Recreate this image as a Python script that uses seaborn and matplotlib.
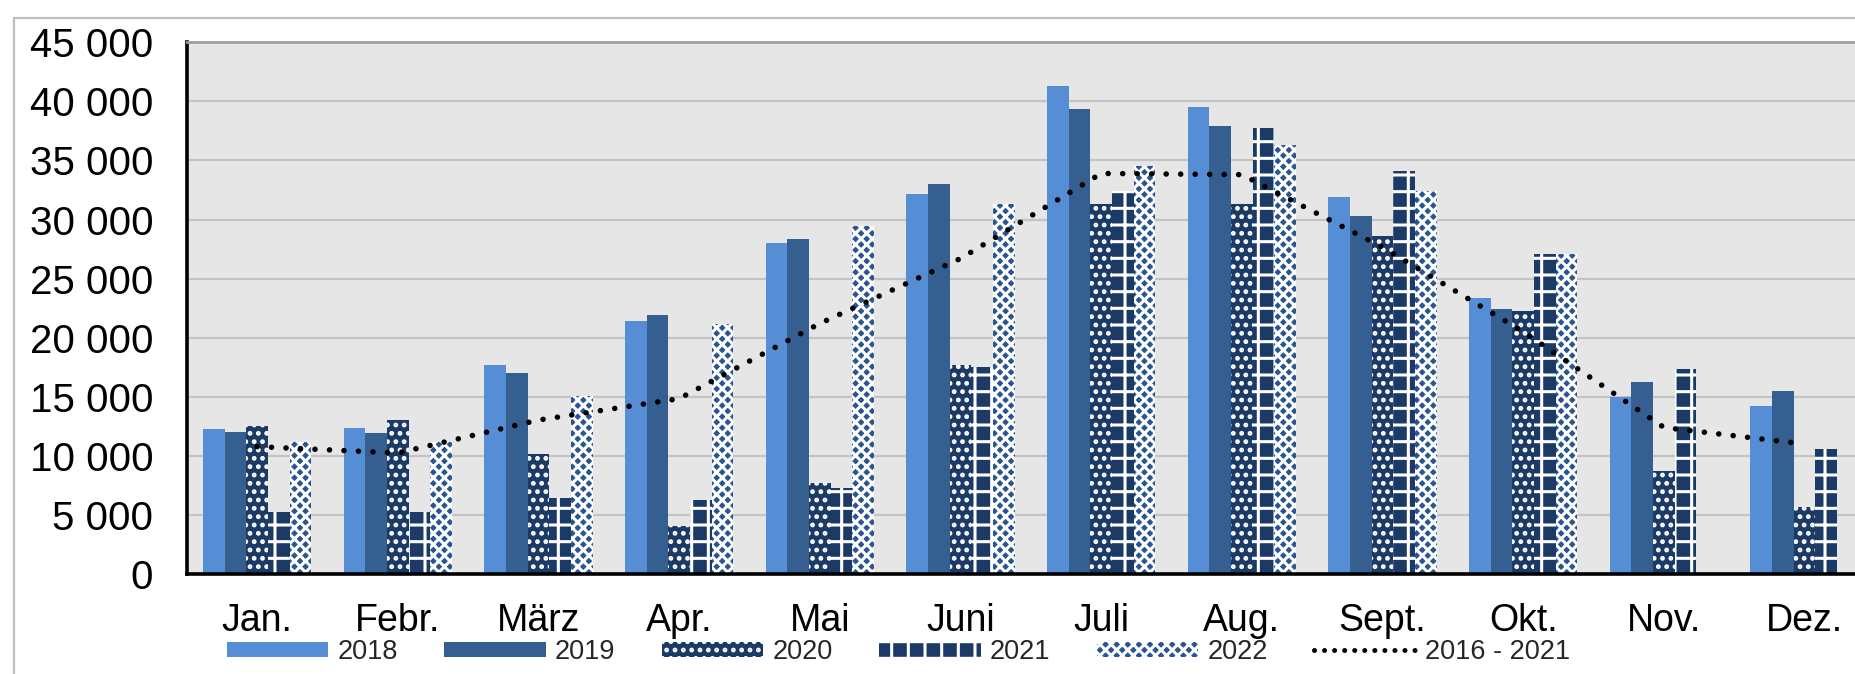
import numpy as np
import pandas as pd
import matplotlib
matplotlib.use("Agg")
import matplotlib.pyplot as plt
import seaborn as sns
from matplotlib.patches import Patch
from matplotlib.lines import Line2D
from matplotlib.ticker import FuncFormatter, FixedLocator

months = ["Jan.", "Febr.", "März", "Apr.", "Mai", "Juni", "Juli", "Aug.", "Sept.", "Okt.", "Nov.", "Dez."]
years = ["2018", "2019", "2020", "2021", "2022"]
v2018 = [12250, 12360, 17660, 21440, 27990, 32130, 41300, 39550, 31880, 23330, 15010, 14180]
v2019 = [12040, 11960, 16980, 21920, 28350, 33010, 39330, 37910, 30300, 22450, 16260, 15450]
v2020 = [12550, 13030, 10160, 4090, 7680, 17690, 31310, 31310, 28610, 22240, 8740, 5710]
v2021 = [5220, 5220, 6430, 6260, 7250, 17550, 32440, 37720, 34130, 27060, 17390, 10570]
v2022 = [11140, 11140, 15060, 21160, 29450, 31290, 34530, 36310, 32440, 27060, np.nan, np.nan]
avg_label = "2016 - 2021"
avg_2016_2021 = [10780, 10240, 13030, 14840, 21200, 26700, 33900, 33800, 27650, 20500, 12400, 11000]

colors = {"2018": "#558ed5", "2019": "#365f91", "2020": "#1b3a66", "2021": "#1b3a66", "2022": "#2a5590"}
hatches = {"2018": None, "2019": None, "2020": "..", "2021": "+", "2022": "xxx"}

series = {"2018": v2018, "2019": v2019, "2020": v2020, "2021": v2021, "2022": v2022}
rows = []
for y in years:
    for m, v in zip(months, series[y]):
        rows.append({"month": m, "year": y, "value": v})
df = pd.DataFrame(rows).dropna()

sns.set_style("white")
plt.rcParams["font.family"] = ["Liberation Sans", "DejaVu Sans"]
plt.rcParams["hatch.linewidth"] = 2.2

fig = plt.figure(figsize=(18.56, 6.74), dpi=100)
ax = fig.add_axes([186.7 / 1856, 100 / 674, (1875 - 186.7) / 1856, (574 - 42.3) / 674])
ax.set_facecolor("#e6e6e6")

sns.barplot(data=df, x="month", y="value", hue="year", order=months, hue_order=years,
            palette=colors, width=0.77, saturation=1, errorbar=None, legend=False, ax=ax)

for cont, y in zip(ax.containers, years):
    for p in cont.patches:
        if hatches[y]:
            p.set_hatch(hatches[y])
            p.set_edgecolor("white")
        else:
            p.set_edgecolor(colors[y])
        p.set_linewidth(0)

sns.lineplot(x=np.arange(len(months)), y=avg_2016_2021, color="black", linewidth=4.0,
             linestyle=(0, (0.01, 2.6)), dash_capstyle="round", legend=False, ax=ax)

ax.set_xlim(-0.5, len(months) - 0.5)
ax.set_ylim(0, 45000)
ax.set_xlabel("")
ax.set_ylabel("")

ax.yaxis.set_major_locator(FixedLocator(np.arange(0, 45001, 5000)))
ax.yaxis.set_major_formatter(FuncFormatter(lambda v, p: f"{int(v):,}".replace(",", " ")))
ax.tick_params(axis="y", which="major", direction="out", length=8, width=2.2, color="black",
               labelsize=29, pad=16, labelcolor="black")
ax.grid(axis="y", color="#c4c4c4", linewidth=1.6)
ax.set_axisbelow(True)

ax.xaxis.set_major_locator(FixedLocator(np.arange(-0.5, len(months), 1.0)))
ax.xaxis.set_minor_locator(FixedLocator(np.arange(len(months))))
ax.set_xticklabels([], minor=False)
ax.set_xticklabels(months, minor=True)
ax.tick_params(axis="x", which="major", direction="out", length=9, width=2.2, color="black")
ax.tick_params(axis="x", which="minor", length=0, labelsize=27, pad=21, labelcolor="black")

for s in ["left", "bottom"]:
    ax.spines[s].set_color("black")
    ax.spines[s].set_linewidth(2.6)
ax.spines["top"].set_color("#9e9e9e")
ax.spines["top"].set_linewidth(2)
ax.spines["right"].set_visible(False)

# outer frame lines
fig.add_artist(Line2D([14 / 1856, 1.0], [1 - 18 / 674, 1 - 18 / 674], color="#c0c0c0", lw=1.6))
fig.add_artist(Line2D([14 / 1856, 14 / 1856], [0.0, 1 - 18 / 674], color="#c0c0c0", lw=1.6))

handles = []
for y in years:
    if hatches[y]:
        handles.append(Patch(facecolor=colors[y], edgecolor="white", hatch=hatches[y], linewidth=0, label=y))
    else:
        handles.append(Patch(facecolor=colors[y], edgecolor=colors[y], linewidth=0, label=y))
handles.append(Line2D([0], [0], color="black", linewidth=3.6, linestyle=(0, (0.01, 2.0)),
                      dash_capstyle="round", label=avg_label))

fig.legend(handles=handles, loc="center left", bbox_to_anchor=(227 / 1856, 1 - 652 / 674),
           ncol=6, frameon=False, fontsize=19.5, handlelength=3.74, handleheight=0.48,
           handletextpad=0.34, columnspacing=1.72, borderpad=0, borderaxespad=0)

fig.savefig("out.png", dpi=100)
